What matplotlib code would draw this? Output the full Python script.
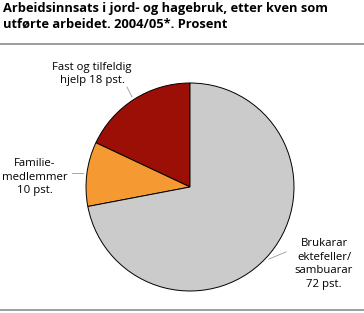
import matplotlib.pyplot as plt

plt.rcParams['font.family'] = ['Open Sans', 'DejaVu Sans']

# Data
labels = ['Fast og tilfeldig\nhjelp 18 pst.', 'Familie-\nmedlemmer\n10 pst.',
          'Brukarar\nektefeller/\nsambuarar\n72 pst.']
values = [18, 10, 72]
colors = ['#9b0f07', '#f59a32', '#cbcbcb']

W, H = 364, 313
fig = plt.figure(figsize=(W / 100, H / 100), dpi=100)
ax = fig.add_axes([0, 0, 1, 1])

def y(v):
    return H - v

# Title and rules
fig.text(3 / W, 1 - 2 / H, 'Arbeidsinnsats i jord- og hagebruk, etter kven som\nutførte arbeidet. 2004/05*. Prosent',
         ha='left', va='top', fontsize=9.3, fontweight='bold', linespacing=1.3)
ax.plot([0, W], [y(44), y(44)], color='#8c8c8c', lw=1.2)
ax.plot([0, W], [y(310), y(310)], color='#8c8c8c', lw=1.2)

# Pie
cx, cy, r = 190, y(187), 104
ax.pie(values, colors=colors, startangle=90, counterclock=True, center=(cx, cy), radius=r,
       wedgeprops=dict(edgecolor='black', linewidth=0.7), frame=True)
ax.set_xlim(0, W)
ax.set_ylim(0, H)
ax.set_aspect('equal')
ax.axis('off')

# Labels and leader lines
ax.text(92, y(74), labels[0], ha='center', va='center', fontsize=8.2, linespacing=1.3)
ax.plot([127, 132], [y(87), y(97)], color='#999999', lw=0.6)
ax.text(35, y(177), labels[1], ha='center', va='center', fontsize=8.2, linespacing=1.3)
ax.plot([72, 83], [y(173), y(173)], color='#999999', lw=0.6)
ax.text(324, y(264), labels[2], ha='center', va='center', fontsize=8.2, linespacing=1.3)
ax.plot([269, 286], [y(259), y(252)], color='#999999', lw=0.6)

fig.savefig('out.png', dpi=100)
